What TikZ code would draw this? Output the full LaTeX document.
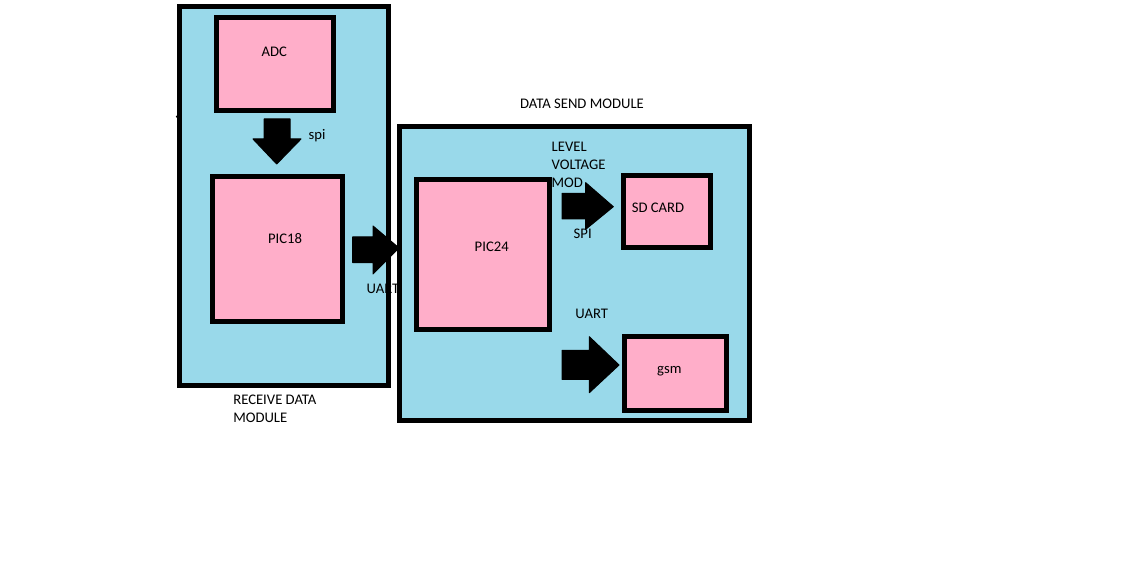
\documentclass[tikz,border=0pt]{standalone}
\usepackage{fontspec}
\setmainfont{Carlito}
\definecolor{modblue}{RGB}{153,217,234}
\definecolor{partpink}{RGB}{255,174,201}
\begin{document}
\begin{tikzpicture}[x=1pt,y=-1pt,
  modbox/.style={draw=black,line width=5pt,fill=modblue,rectangle,inner sep=0pt,outer sep=0pt},
  partbox/.style={draw=black,line width=5pt,fill=partpink,rectangle,inner sep=0pt,outer sep=0pt},
  blockarrow/.style={fill=black,draw=black,line width=1pt,line join=round},
  lbl/.style={font=\fontsize{14.67}{18}\selectfont,inner sep=0pt,outer sep=0pt,text=black},
  markdot/.style={fill=black,circle,inner sep=0pt,minimum size=3.5pt}]
\fill[white] (0,0) rectangle (1130,577);
\useasboundingbox (0,0) rectangle (1130,577);

% receive data module
\node[modbox,minimum width=208.7pt,minimum height=379.2pt] (recv) at (284.15,196.1) {};
\node[markdot] (dotA) at (177.5,116.7) {};
\node[partbox,minimum width=116.7pt,minimum height=92.7pt] (adc) at (274.85,63.85) {};
\node[lbl,anchor=base] (adct) at (274.3,57) {ADC};
\node[partbox,minimum width=129.7pt,minimum height=144.7pt] (pic18) at (277.35,248.85) {};
\node[lbl,anchor=base] (pic18t) at (285,244) {PIC18};
\draw[blockarrow] (264,119) -- (290,119) -- (290,139) -- (301,139) -- (276.7,164) -- (253,139) -- (264,139) -- cycle;
\node[lbl,anchor=base] (spit) at (317,140) {spi};
\node[lbl,anchor=west,align=left] (recvlabel) at (233.3,408.3) {RECEIVE DATA\\MODULE};

% link
\draw[blockarrow] (352.7,237) -- (373,237) -- (373,226) -- (399,248) -- (373,274) -- (373,262.7) -- (352.7,262.7) -- cycle;
\node[lbl,anchor=base west] (uartl) at (366.7,294) {UART};

% data send module
\node[lbl,anchor=base] (sendt) at (582,109) {DATA SEND MODULE};
\node[modbox,minimum width=349.4pt,minimum height=294pt] (send) at (574.5,273.8) {};
\node[partbox,minimum width=133pt,minimum height=149.7pt] (pic24) at (483,254.35) {};
\node[lbl,anchor=base] (pic24t) at (491.7,252) {PIC24};
\node[partbox,minimum width=87pt,minimum height=71.7pt] (sd) at (667,211.35) {};
\node[lbl,anchor=base] (sdt) at (658,213) {SD CARD};
\node[markdot] (dotB) at (710.5,207) {};
\node[partbox,minimum width=102pt,minimum height=74pt] (gsm) at (675.5,373.5) {};
\node[lbl,anchor=base] (gsmt) at (669.3,373.3) {gsm};
\node[lbl,anchor=west,align=left] (levelt) at (551.7,164.5) {LEVEL\\VOLTAGE\\MOD};
\draw[blockarrow] (562,193.3) -- (585.7,193.3) -- (585.7,182.7) -- (613.3,206.7) -- (585.7,229.3) -- (585.7,219) -- (562,219) -- cycle;
\node[lbl,anchor=base] (spi2t) at (582.7,239) {SPI};
\node[lbl,anchor=base] (uartr) at (591.7,319) {UART};
\draw[blockarrow] (562,350.3) -- (589.3,350.3) -- (589.3,336.7) -- (619,365) -- (589.3,392.7) -- (589.3,379.3) -- (562,379.3) -- cycle;
\end{tikzpicture}
\end{document}
